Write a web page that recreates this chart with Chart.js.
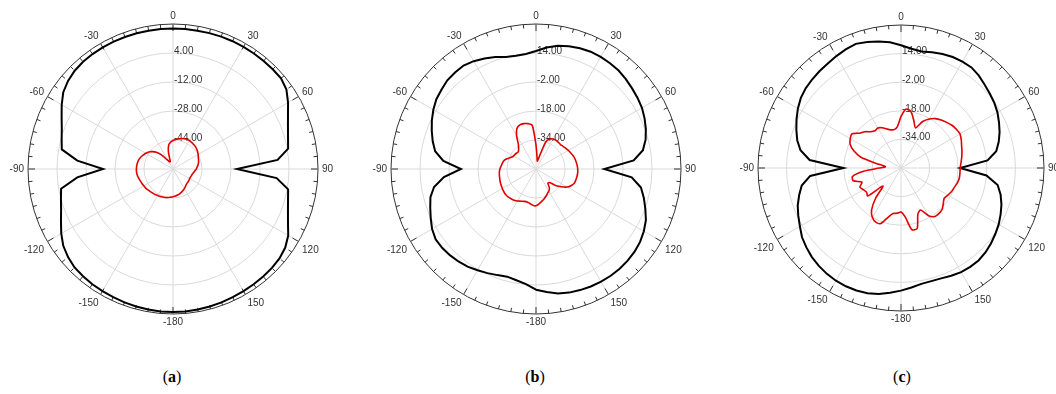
<!DOCTYPE html>
<html>
<head>
<meta charset="utf-8">
<script src="https://cdn.jsdelivr.net/npm/chart.js@4.4.1/dist/chart.umd.min.js"></script>
<style>
  html, body { margin: 0; padding: 0; background: #fff; }
  #wrap { position: relative; width: 1056px; height: 394px; overflow: hidden; background: #fff; }
  canvas { position: absolute; top: 0; }
  .cap { position: absolute; top: 368px; width: 60px; margin-left: -30px; text-align: center;
         font: 16px "Liberation Serif", "Times New Roman", serif; color: #000; line-height: 18px; }
</style>
</head>
<body>
<div id="wrap">
  <canvas id="pa" width="350" height="340" style="left:0px"></canvas>
  <canvas id="pb" width="350" height="340" style="left:360px"></canvas>
  <canvas id="pc" width="344" height="340" style="left:712px"></canvas>
  <div class="cap" style="left:172px">(<b>a</b>)</div>
  <div class="cap" style="left:535px">(<b>b</b>)</div>
  <div class="cap" style="left:902px">(<b>c</b>)</div>
</div>
<script>
// ── Angles (deg), -180 at the bottom, clockwise: -90 left, 0 top, 90 right ──
const angles = [
  -180,-175,-170,-165,-160,-155,-150,-145,-140,-135,-130,-125,
  -120,-115,-110,-105,-100,-95,-90,-85,-80,-75,-70,-65,
  -60,-55,-50,-45,-40,-35,-30,-25,-20,-15,-10,-5,
  0,5,10,15,20,25,30,35,40,45,50,55,
  60,65,70,75,80,85,90,95,100,105,110,115,
  120,125,130,135,140,145,150,155,160,165,170,175
];

// ── (a) gain, dB ──
const aBlack = [
  18.9,18.9,18.7,18.5,18.3,18.0,17.8,17.6,17.2,16.8,15.6,13.9,
  11.2,8.2,5.7,4.0,2.7,-7.0,-21.4,-7.0,2.3,3.6,5.3,7.8,
  10.9,13.9,15.6,16.7,17.2,17.4,17.5,17.5,17.5,17.5,17.5,17.5,
  17.5,17.5,17.5,17.6,17.7,17.8,17.8,17.8,17.8,17.8,17.8,16.4,
  13.3,10.0,7.5,5.7,4.5,-2.1,-24.7,-2.6,4.5,5.7,7.5,10.0,
  13.4,15.6,16.7,17.2,17.4,17.6,17.8,18.0,18.3,18.5,18.7,18.9
];
const aRed = [
  -44.7,-44.4,-44.0,-43.7,-43.6,-43.3,-43.1,-42.8,-42.6,-42.3,-42.0,-41.6,
  -41.4,-41.1,-40.8,-40.4,-40.0,-39.8,-39.8,-39.9,-40.1,-40.4,-41.0,-41.8,
  -42.7,-43.6,-45.1,-47.0,-49.5,-52.8,-54.5,-55.6,-55.6,-50.1,-46.5,-45.1,
  -44.3,-43.7,-43.2,-42.6,-42.2,-41.9,-41.9,-42.1,-42.3,-42.5,-42.9,-43.4,
  -44.0,-44.6,-45.0,-45.4,-45.9,-46.6,-47.1,-47.9,-48.5,-49.0,-49.2,-49.4,
  -49.4,-49.2,-49.1,-49.0,-48.7,-48.1,-47.5,-46.9,-46.4,-45.8,-45.4,-45.0
];

// ── (b) gain, dB ──
const bBlack = [
  16.6,13.8,12.3,11.5,12.3,13.4,14.5,15.8,16.6,17.2,17.6,17.6,
  16.2,14.1,12.1,10.3,7.1,1.0,-8.6,1.3,6.5,9.0,11.2,13.4,
  15.4,17.1,18.1,19.2,19.5,19.7,18.7,17.3,15.7,14.0,13.4,13.7,
  15.1,17.3,19.0,20.1,20.9,21.4,21.4,21.2,20.9,20.1,19.2,18.4,
  17.5,16.1,14.5,12.6,9.9,4.1,-12.3,3.0,8.8,11.6,14.2,16.9,
  18.7,20.1,21.0,21.5,21.8,21.9,21.8,21.5,21.1,20.6,19.7,18.1
];
const bRed = [
  -29.7,-29.9,-30.7,-31.2,-31.0,-30.4,-29.6,-29.0,-28.6,-28.2,-28.1,-28.3,
  -28.5,-28.8,-29.0,-29.3,-29.5,-29.7,-30.1,-30.7,-31.2,-31.8,-33.2,-34.8,
  -35.7,-35.9,-36.2,-36.3,-35.1,-32.9,-28.5,-25.2,-24.1,-24.1,-24.6,-25.7,
  -36.8,-43.4,-45.6,-42.8,-34.0,-31.8,-30.9,-30.7,-30.8,-30.9,-30.5,-30.0,
  -29.4,-28.9,-28.3,-27.8,-27.5,-27.2,-27.0,-26.9,-27.0,-27.2,-27.4,-28.5,
  -30.1,-32.9,-35.9,-39.5,-39.8,-37.0,-35.9,-35.1,-34.0,-32.9,-31.9,-30.7
];

// ── (c) gain, dB ──
const cBlack = [
  18.6,20.1,21.6,22.5,22.9,23.0,22.8,22.3,21.5,20.5,19.1,17.6,
  15.3,13.4,11.5,9.0,6.4,1.0,-17.8,1.3,7.1,10.1,12.3,14.5,
  16.6,18.4,19.5,20.2,20.8,21.4,22.3,23.2,23.9,23.0,21.8,20.6,
  18.7,17.0,16.2,17.0,17.9,18.5,18.7,18.7,17.6,16.1,14.8,13.7,
  12.3,10.5,8.7,6.6,4.1,-1.4,-16.9,-2.0,4.9,7.7,9.8,11.5,
  13.1,14.4,15.7,16.8,17.5,17.5,17.3,16.5,15.7,15.5,15.8,17.1
];
const cRed = [
  -25.4,-24.6,-24.1,-21.3,-16.9,-16.6,-18.0,-21.3,-27.9,-35.7,-25.7,-26.5,
  -25.7,-24.6,-26.8,-22.4,-22.4,-29.0,-37.9,-41.2,-36.8,-26.8,-21.9,-18.6,
  -17.2,-16.6,-19.7,-21.3,-23.5,-24.6,-24.1,-25.2,-26.8,-27.9,-28.2,-26.8,
  -21.3,-16.9,-18.0,-22.4,-26.1,-21.3,-18.3,-16.3,-15.0,-13.9,-12.8,-12.2,
  -11.9,-12.8,-13.9,-14.7,-15.5,-16.3,-16.9,-16.9,-16.9,-17.4,-18.3,-18.8,
  -19.7,-20.5,-19.1,-17.4,-16.9,-16.9,-19.1,-24.1,-22.4,-15.0,-15.0,-22.4
];

const GRID = '#d9d9d9';
const RING = '#333333';
const TXT = '#333';

// outer ring ticks, angle labels and radial value labels
const ringDecor = {
  id: 'ringDecor',
  beforeDatasetsDraw(chart) {
    const s = chart.scales.r, ctx = chart.ctx;
    const R = s.drawingArea, cx = s.xCenter, cy = s.yCenter;
    ctx.save();
    ctx.strokeStyle = RING;
    ctx.lineWidth = 1;
    ctx.beginPath();
    angles.forEach((a, i) => {
      const len = a % 30 === 0 ? 7 : 4;
      const p1 = s.getPointPosition(i, R), p2 = s.getPointPosition(i, R - len);
      ctx.moveTo(p1.x, p1.y);
      ctx.lineTo(p2.x, p2.y);
    });
    ctx.stroke();

    ctx.fillStyle = TXT;
    ctx.font = '10px "Liberation Sans", Arial, sans-serif';
    angles.forEach((a, i) => {
      if (a % 30 !== 0) return;
      const p = s.getPointPosition(i, R + 4);
      const dx = (p.x - cx) / (R + 4), dy = (p.y - cy) / (R + 4);
      ctx.textAlign = Math.abs(dx) < 0.05 ? 'center' : (dx > 0 ? 'left' : 'right');
      ctx.textBaseline = 'middle';
      const off = dy < -0.05 ? dy * 4 : (dy > 0.05 ? 4 + 6 * (1 - dy) : 0);
      ctx.fillText(String(a), p.x, p.y + off);
    });

    ctx.textAlign = 'left';
    ctx.textBaseline = 'middle';
    s.ticks.forEach((t, k) => {
      if (k === 0 || k === s.ticks.length - 1) return;
      const d = s.getDistanceFromCenterForValue(t.value);
      ctx.fillText(t.value.toFixed(2), cx + 1, cy - d - 2);
    });
    ctx.restore();
  }
};

function polarChart(id, pad, min, max, black, red) {
  new Chart(document.getElementById(id), {
    type: 'radar',
    data: {
      labels: angles,
      datasets: [
        { data: red,   borderColor: '#e10000', borderWidth: 1.6, fill: false, tension: 0.25, order: 0 },
        { data: black, borderColor: '#000000', borderWidth: 2,   fill: false, tension: 0,    order: 1 }
      ]
    },
    options: {
      responsive: false,
      animation: false,
      layout: { padding: pad },
      elements: { point: { radius: 0, hitRadius: 0 } },
      plugins: { legend: { display: false }, tooltip: { enabled: false } },
      scales: {
        r: {
          min: min, max: max,
          startAngle: 180,
          ticks: { display: false, stepSize: 16 },
          pointLabels: { display: false },
          grid: { circular: true, lineWidth: 1, color: c => (c.tick && c.tick.value === max) ? RING : GRID },
          angleLines: { lineWidth: 1, color: c => angles[c.index] % 30 === 0 ? GRID : 'rgba(0,0,0,0)' }
        }
      }
    },
    plugins: [ringDecor]
  });
}

polarChart('pa', { left: 28, right: 32, top: 24, bottom: 26 }, -60, 20, aBlack, aRed);
polarChart('pb', { left: 31, right: 29, top: 24, bottom: 26 }, -50, 30, bBlack, bRed);
polarChart('pc', { left: 46, right: 12, top: 25, bottom: 29 }, -50, 30, cBlack, cRed);
</script>
</body>
</html>
